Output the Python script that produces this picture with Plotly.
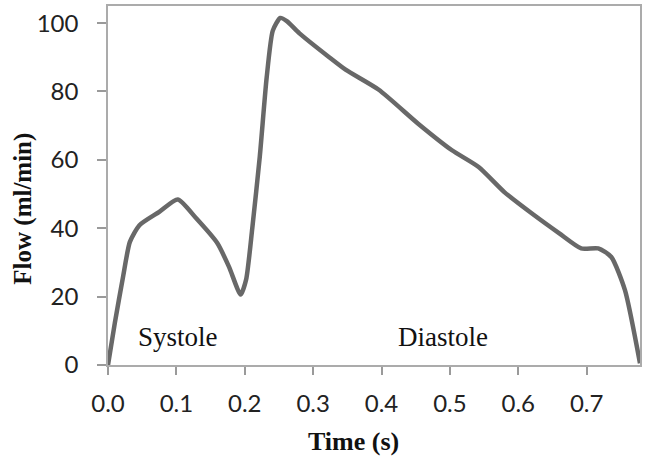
import plotly.graph_objects as go

time_s = [0, 0.01, 0.022, 0.032, 0.046, 0.075, 0.102, 0.129, 0.16, 0.177, 0.194,
          0.202, 0.211, 0.222, 0.232, 0.241, 0.252, 0.262, 0.28, 0.323, 0.348,
          0.396, 0.454, 0.503, 0.542, 0.58, 0.62, 0.66, 0.692, 0.717, 0.736,
          0.756, 0.778]
flow = [0, 12.3, 25.8, 36, 40.9, 44.8, 48.4, 42.9, 35.6, 28.7, 20.6,
        25, 40, 61, 84, 97.8, 101.5, 100.5, 97, 90.1, 86.3,
        80.5, 70.5, 62.8, 57.9, 50.5, 44.3, 38.5, 34.1, 34.1, 31.6,
        21.9, 0.5]

x_ticks = [0.0, 0.1, 0.2, 0.3, 0.4, 0.5, 0.6, 0.7]
x_tick_labels = ["0.0", "0.1", "0.2", "0.3", "0.4", "0.5", "0.6", "0.7"]
y_ticks = [0, 20, 40, 60, 80, 100]
y_tick_labels = ["0", "20", "40", "60", "80", "100"]

phase_labels = ["Systole", "Diastole"]
phase_x = [0.103, 0.490]
phase_y = [8.3, 8.3]

fig = go.Figure()
fig.add_trace(go.Scatter(
    x=time_s, y=flow, mode="lines",
    line=dict(color="#686868", width=4.5, shape="spline", smoothing=0.6),
    showlegend=False, hoverinfo="skip"))

for lab, px, py in zip(phase_labels, phase_x, phase_y):
    fig.add_annotation(x=px, y=py, xref="x", yref="y", text=lab, showarrow=False,
                       font=dict(family="Liberation Serif", size=27, color="#111111"),
                       xanchor="center", yanchor="middle")

fig.add_annotation(x=0.461, y=-0.212, xref="paper", yref="paper", text="<b>Time (s)</b>",
                   showarrow=False, font=dict(family="Liberation Serif", size=26, color="#111111"),
                   xanchor="center", yanchor="middle")
fig.add_annotation(x=-0.16, y=0.435, xref="paper", yref="paper", text="<b>Flow (ml/min)</b>",
                   showarrow=False, textangle=-90,
                   font=dict(family="Liberation Serif", size=25, color="#111111"),
                   xanchor="center", yanchor="middle")

axis_common = dict(showgrid=False, zeroline=False, showline=True, mirror=True,
                   linecolor="#ababab", linewidth=1.5, ticks="outside",
                   tickcolor="#9a9a9a", tickwidth=1.5,
                   tickfont=dict(family="Lato", size=24, color="#222222"))

fig.update_xaxes(range=[0, 0.778], tickvals=x_ticks, ticktext=x_tick_labels,
                 ticklen=8, ticklabelstandoff=8, **axis_common)
fig.update_yaxes(range=[0, 105], tickvals=y_ticks, ticktext=y_tick_labels,
                 ticklen=9, ticklabelstandoff=14, **axis_common)

fig.update_layout(width=646, height=458, margin=dict(l=108, r=4, t=6, b=93),
                  plot_bgcolor="white", paper_bgcolor="white")

fig.write_html("out.html")
